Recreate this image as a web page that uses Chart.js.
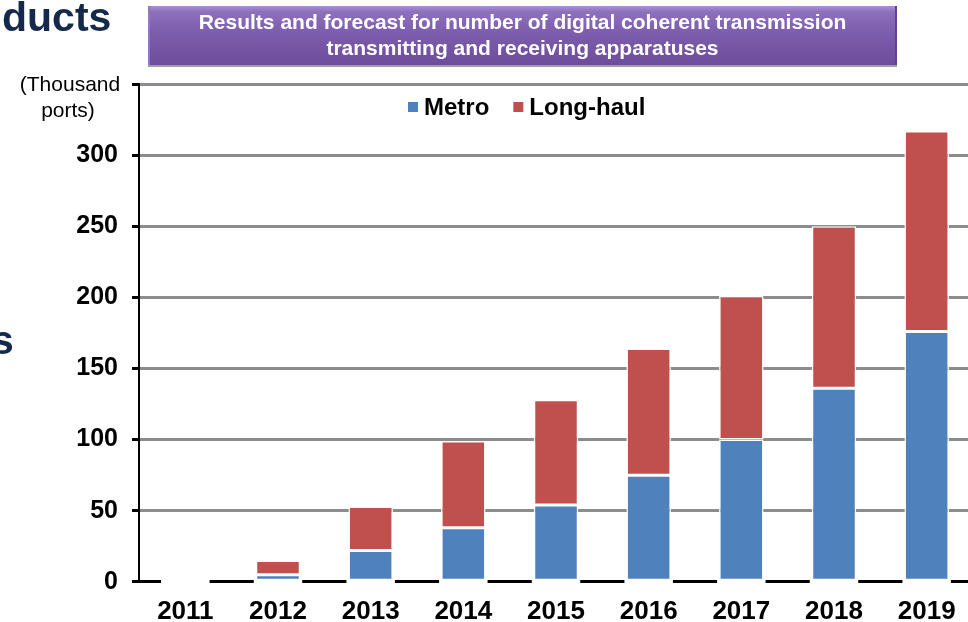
<!DOCTYPE html>
<html>
<head>
<meta charset="utf-8">
<script src="https://cdn.jsdelivr.net/npm/chart.js@4/dist/chart.umd.min.js"></script>
<style>
  html, body { margin: 0; padding: 0; background: #fff; overflow: hidden; }
  #wrap { position: relative; width: 968px; height: 622px; overflow: hidden; background: #fff; }
  #chart { position: absolute; left: 0; top: 0; }
  .side { position: absolute; font-family: "Liberation Sans", Arial, sans-serif; font-weight: bold;
          font-size: 41px; line-height: 1; color: #152a4a; white-space: nowrap; }
  #titlebox { position: absolute; left: 148px; top: 6px; width: 749px; height: 59px; box-sizing: border-box;
              background: linear-gradient(to bottom, #a890d3 0%, #8d70bd 10%, #7d5dad 45%, #6d4c9c 100%);
              box-shadow: 0 2px 0 #a0a0a0; border-left: 2px solid #9277c2; border-right: 2px solid #5f4289;
              color: #fff; font-family: "Liberation Sans", Arial, sans-serif; font-weight: bold; font-size: 21px;
              line-height: 26px; text-align: center; padding-top: 3px; white-space: nowrap; }
</style>
</head>
<body>
<div id="wrap">
  <canvas id="chart" width="980" height="639"></canvas>
  <div class="side" style="left:2px; top:-3px;">ducts</div>
  <div class="side" style="left:-9px; top:320px;">s</div>
  <div id="titlebox">Results and forecast for number of digital coherent transmission<br>transmitting and receiving apparatuses</div>
</div>
<script>
const categories = ['2011', '2012', '2013', '2014', '2015', '2016', '2017', '2018', '2019'];
const seriesNames = ['Metro', 'Long-haul'];
const metro = [0.3, 5, 22, 38, 54, 75, 100, 136, 176];
const longHaul = [0.7, 10, 31, 61, 74, 89, 101, 114, 141];
const yTicks = [0, 50, 100, 150, 200, 250, 300, 350];
const unitLabel = ['(Thousand', 'ports)'];

const FONT = '"Liberation Sans", Arial, sans-serif';

const extras = {
  id: 'extras',
  afterDatasetsDraw(chart) {
    const { ctx, chartArea } = chart;
    const meta = chart.getDatasetMeta(0);
    ctx.save();
    ctx.fillStyle = '#fff';
    meta.data.forEach(el => {
      const w = el.width;
      ctx.fillRect(el.x - w / 2 - 2, chartArea.bottom - 2, w + 4, 5);
    });
    ctx.restore();
  },
  afterDraw(chart) {
    const { ctx, chartArea } = chart;
    const y = chart.scales.y;
    ctx.save();
    ctx.fillStyle = '#000';
    ctx.font = '21px ' + FONT;
    ctx.textAlign = 'center';
    ctx.textBaseline = 'middle';
    const yTop = y.getPixelForValue(350);
    ctx.fillText(unitLabel[0], chartArea.left - 69, yTop + 1);
    ctx.fillText(unitLabel[1], chartArea.left - 71, yTop + 27);
    ctx.font = 'bold 24px ' + FONT;
    ctx.textAlign = 'left';
    let x = chartArea.left + 269;
    const ly = chartArea.top + 23;
    chart.data.datasets.forEach(ds => {
      ctx.fillStyle = ds.backgroundColor;
      ctx.fillRect(x, ly - 5, 10, 10);
      x += 16;
      ctx.fillStyle = '#000';
      ctx.fillText(ds.label, x, ly + 1);
      x += ctx.measureText(ds.label).width + 24;
    });
    ctx.restore();
  }
};

new Chart(document.getElementById('chart'), {
  type: 'bar',
  data: {
    labels: categories,
    datasets: [
      { label: seriesNames[0], data: metro, backgroundColor: '#4F81BD', borderColor: '#ffffff',
        borderWidth: 1.5, borderSkipped: false, barPercentage: 0.96, categoryPercentage: 0.5 },
      { label: seriesNames[1], data: longHaul, backgroundColor: '#C0504D', borderColor: '#ffffff',
        borderWidth: 1.5, borderSkipped: false, barPercentage: 0.96, categoryPercentage: 0.5 }
    ]
  },
  options: {
    responsive: false,
    animation: false,
    layout: { padding: { top: 84, right: 7, bottom: 6, left: 0 } },
    plugins: { legend: { display: false }, tooltip: { enabled: false } },
    scales: {
      x: {
        stacked: true,
        grid: { display: false },
        border: { display: false },
        ticks: { color: '#000', font: { family: FONT, size: 26, weight: 'bold' }, padding: 6,
                 maxRotation: 0, autoSkip: false }
      },
      y: {
        stacked: true,
        min: yTicks[0],
        max: yTicks[yTicks.length - 1],
        afterFit: s => { s.width = 139; },
        afterBuildTicks: s => { s.ticks = yTicks.map(v => ({ value: v })); },
        ticks: {
          color: '#000', font: { family: FONT, size: 25, weight: 'bold' }, padding: 14,
          callback: v => (v === 350 ? '' : v)
        },
        grid: {
          color: c => (c.tick && c.tick.value === 0 ? '#000' : '#8c8c8c'),
          lineWidth: 3, tickColor: '#000', tickLength: 7, tickWidth: 3
        },
        border: { display: true, color: '#000', width: 2 }
      }
    }
  },
  plugins: [extras]
});
</script>
</body>
</html>
